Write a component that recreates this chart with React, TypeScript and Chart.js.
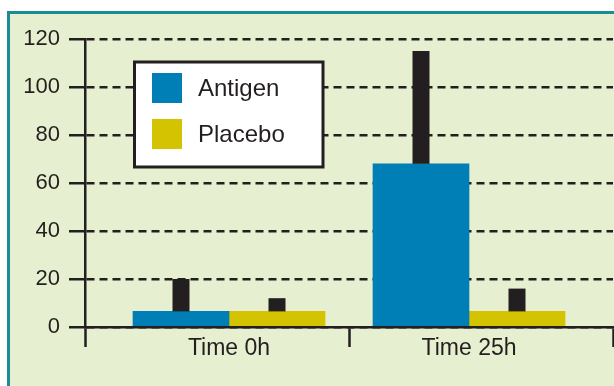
import React, { useEffect, useRef } from "react";
import { Chart, registerables } from "chart.js";

Chart.register(...registerables);

const categories = ["Time 0h", "Time 25h"];
const seriesNames = ["Antigen", "Placebo"];
const antigenValues = [6.5, 68];
const placeboValues = [6.5, 6.5];
const antigenErrors = [13.5, 47];
const placeboErrors = [5.5, 9.5];
const yTicks = [0, 20, 40, 60, 80, 100, 120];

const DARK = "#231f20";
const BLUE = "#007fb6";
const YELLOW = "#d3c300";
const FONT = "'Liberation Sans', Arial, Helvetica, sans-serif";

const errorBarPlugin = {
  id: "errorBars",
  afterDatasetsDraw(chart: any) {
    const ctx = chart.ctx;
    const yScale = chart.scales.y;
    ctx.save();
    ctx.fillStyle = DARK;
    chart.data.datasets.forEach((ds: any, i: number) => {
      const meta = chart.getDatasetMeta(i);
      meta.data.forEach((el: any, j: number) => {
        const v = ds.data[j].y;
        const e = ds.errors[j];
        const top = yScale.getPixelForValue(v + e);
        const w = 17;
        ctx.fillRect(el.x - w / 2, top, w, el.y - top);
      });
    });
    ctx.restore();
  },
};

const legendPlugin = {
  id: "boxLegend",
  afterDraw(chart: any) {
    const ctx = chart.ctx;
    ctx.save();
    ctx.fillStyle = "#ffffff";
    ctx.fillRect(134.5, 62, 188.5, 105);
    ctx.lineWidth = 3;
    ctx.strokeStyle = DARK;
    ctx.strokeRect(134.5, 62, 188.5, 105);
    ctx.font = `24px ${FONT}`;
    ctx.textBaseline = "alphabetic";
    ctx.textAlign = "left";
    chart.data.datasets.forEach((ds: any, i: number) => {
      const rowTop = 73 + i * 46;
      ctx.fillStyle = ds.backgroundColor;
      ctx.fillRect(152, rowTop, 30, 30);
      ctx.fillStyle = DARK;
      ctx.fillText(ds.label, 198, rowTop + 23);
    });
    ctx.restore();
  },
};

export default function App() {
  const canvasRef = useRef<HTMLCanvasElement | null>(null);

  useEffect(() => {
    if (!canvasRef.current) return;
    const chart = new Chart(canvasRef.current, {
      type: "bar",
      data: {
        datasets: [
          {
            label: seriesNames[0],
            data: categories.map((_, i) => ({ x: i, y: antigenValues[i] })),
            errors: antigenErrors,
            backgroundColor: BLUE,
            borderWidth: 0,
            barThickness: 96,
          } as any,
          {
            label: seriesNames[1],
            data: categories.map((_, i) => ({ x: i, y: placeboValues[i] })),
            errors: placeboErrors,
            backgroundColor: YELLOW,
            borderWidth: 0,
            barThickness: 96,
          } as any,
        ],
      },
      options: {
        responsive: false,
        animation: false,
        events: [],
        layout: { padding: { top: 39, left: 0, right: 1, bottom: 0 } },
        plugins: {
          legend: { display: false },
          tooltip: { enabled: false },
        },
        scales: {
          x: {
            type: "linear",
            position: "bottom",
            min: -0.6,
            max: 1.6,
            offset: false,
            bounds: "data",
            afterBuildTicks: (scale: any) => {
              scale.ticks = [-0.6, 0, 0.5, 1, 1.6].map((v) => ({ value: v }));
            },
            afterFit: (scale: any) => {
              scale.height = 59;
            },
            ticks: {
              autoSkip: false,
              maxRotation: 0,
              minRotation: 0,
              padding: -12,
              color: DARK,
              font: { family: FONT, size: 23 },
              callback: (value: any) =>
                Number.isInteger(value) && categories[value] !== undefined ? categories[value] : "",
            },
            grid: {
              display: true,
              offset: false,
              drawOnChartArea: false,
              drawTicks: true,
              tickLength: 20,
              tickWidth: 2.5,
              tickColor: (c: any) =>
                c.tick && Number.isInteger(c.tick.value) ? "rgba(0,0,0,0)" : DARK,
            },
            border: { display: true, color: DARK, width: 2.5 },
          },
          y: {
            type: "linear",
            min: 0,
            max: 120,
            afterBuildTicks: (scale: any) => {
              scale.ticks = yTicks.map((v) => ({ value: v }));
            },
            afterFit: (scale: any) => {
              scale.width = 85;
            },
            ticks: {
              padding: 9,
              color: DARK,
              font: { family: FONT, size: 22 },
            },
            grid: {
              color: DARK,
              lineWidth: 2.5,
              tickLength: 16,
              tickWidth: 2.5,
              tickColor: DARK,
            },
            border: { display: true, color: DARK, width: 2.5, dash: [8, 5] },
          },
        },
      } as any,
      plugins: [errorBarPlugin, legendPlugin],
    });
    return () => chart.destroy();
  }, []);

  return (
    <div
      style={{
        position: "fixed",
        left: 0,
        top: 0,
        width: 614,
        height: 386,
        overflow: "hidden",
        background: "#ffffff",
      }}
    >
      <div
        style={{
          position: "absolute",
          left: 7,
          top: 11,
          width: 700,
          height: 500,
          borderLeft: "3px solid #1b8b95",
          borderTop: "3px solid #1b8b95",
          background: "#e6efcf",
        }}
      />
      <canvas
        ref={canvasRef}
        width={614}
        height={386}
        style={{ position: "absolute", left: 0, top: 0, width: 614, height: 386 }}
      />
    </div>
  );
}
